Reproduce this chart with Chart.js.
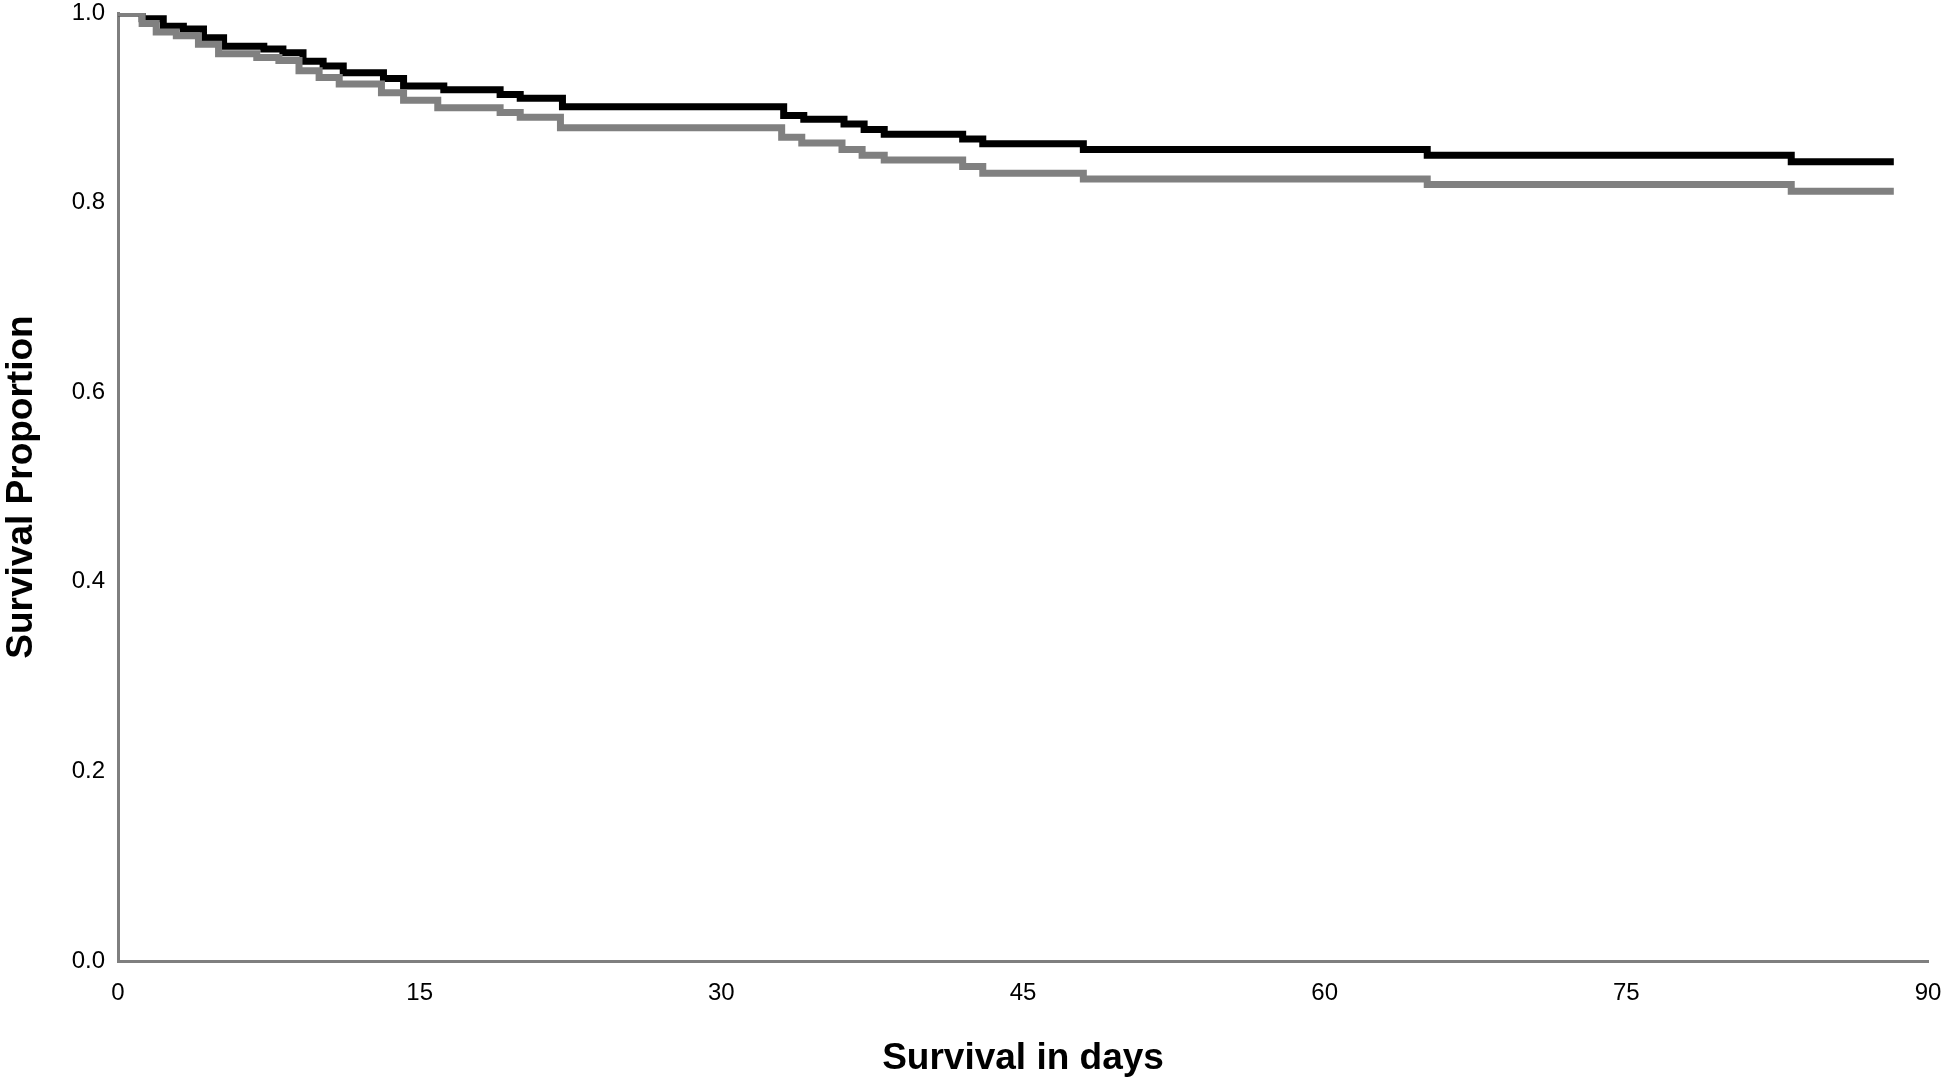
<!DOCTYPE html>
<html>
<head>
<meta charset="utf-8">
<title>Survival Proportion</title>
<script src="https://cdn.jsdelivr.net/npm/chart.js@4.4.1/dist/chart.umd.min.js"></script>
<style>
  html, body { margin: 0; padding: 0; background: #ffffff; }
  #wrap { width: 1950px; height: 1083px; }
</style>
</head>
<body>
<div id="wrap"><canvas id="survivalChart" width="1950" height="1083"></canvas></div>
<script>
// tick labels
const xTicks = [0, 15, 30, 45, 60, 75, 90];
const yTicks = [0, 0.2, 0.4, 0.6, 0.8, 1.0];

// black curve (step drops)
const blackDays = [0, 1.2, 2.25, 3.25, 4.25, 5.25, 7.25, 8.2, 9.2, 10.2, 11.2, 13.2, 14.2, 16.2, 19, 20, 22.1, 33.1, 34.1, 36.1, 37.1, 38.1, 42, 43, 48, 65.1, 83.2, 88.3];
const blackSurvival = [1.0, 0.994, 0.986, 0.983, 0.974, 0.965, 0.962, 0.958, 0.949, 0.944, 0.937, 0.931, 0.923, 0.919, 0.914, 0.910, 0.901, 0.892, 0.888, 0.883, 0.877, 0.872, 0.867, 0.862, 0.856, 0.850, 0.843, 0.843];

// gray curve
const grayDays = [0, 1.2, 1.9, 2.9, 4, 5, 6.9, 8, 9, 10, 11, 13.1, 14.2, 15.9, 19, 20, 22, 33, 34, 36, 37, 38.1, 42, 43, 48, 65.1, 83.2, 88.3];
const graySurvival = [1.0, 0.989, 0.980, 0.976, 0.967, 0.957, 0.953, 0.950, 0.939, 0.932, 0.925, 0.916, 0.908, 0.900, 0.895, 0.890, 0.879, 0.869, 0.863, 0.856, 0.850, 0.845, 0.838, 0.831, 0.825, 0.819, 0.812, 0.812];

document.addEventListener("DOMContentLoaded", () => {
  renderChart();
});

function toPoints(days, values) {
  return days.map((day, i) => ({ x: day, y: values[i] }));
}

function renderChart() {
  const ctx = document.getElementById("survivalChart").getContext("2d");

  new Chart(ctx, {
    type: "line",
    data: {
      datasets: [
        {
          label: "Gray",
          data: toPoints(grayDays, graySurvival),
          borderColor: "#808080",
          borderWidth: 7,
          stepped: "before",
          pointRadius: 0,
          fill: false
        },
        {
          label: "Black",
          data: toPoints(blackDays, blackSurvival),
          borderColor: "#000000",
          borderWidth: 7,
          stepped: "before",
          pointRadius: 0,
          fill: false
        }
      ]
    },
    options: {
      responsive: false,
      devicePixelRatio: 1,
      animation: false,
      layout: {
        padding: { left: 0, right: 22, top: 13, bottom: 0 }
      },
      plugins: {
        legend: { display: false },
        tooltip: { enabled: false }
      },
      scales: {
        x: {
          type: "linear",
          min: 0,
          max: 90,
          afterBuildTicks: scale => {
            scale.ticks = xTicks.map(v => ({ value: v }));
          },
          afterFit: scale => {
            // fixed band under the plot, no extra room for edge labels
            scale.height = 122;
            scale.paddingLeft = 0;
            scale.paddingRight = 0;
          },
          grid: { display: false, drawTicks: false },
          border: { display: true, color: "#7f7f7f", width: 3 },
          ticks: {
            padding: 18,
            color: "#000000",
            font: { family: "Liberation Sans, Arial, sans-serif", size: 24 },
            maxRotation: 0
          },
          title: {
            display: true,
            text: "Survival in days",
            color: "#000000",
            font: { family: "Liberation Sans, Arial, sans-serif", size: 37, weight: "bold", lineHeight: 1.2 },
            padding: { top: 0, bottom: 2 }
          }
        },
        y: {
          type: "linear",
          min: 0,
          max: 1,
          afterBuildTicks: scale => {
            scale.ticks = yTicks.map(v => ({ value: v }));
          },
          afterFit: scale => {
            scale.width = 118;
            scale.paddingTop = 0;
            scale.paddingBottom = 0;
          },
          grid: { display: false, drawTicks: false },
          border: { display: true, color: "#7f7f7f", width: 3 },
          ticks: {
            padding: 13,
            color: "#000000",
            font: { family: "Liberation Sans, Arial, sans-serif", size: 24 },
            callback: value => Number(value).toFixed(1)
          },
          title: {
            display: true,
            text: "Survival Proportion",
            color: "#000000",
            font: { family: "Liberation Sans, Arial, sans-serif", size: 37, weight: "bold", lineHeight: 1.2 },
            padding: { top: 0, bottom: 0 }
          }
        }
      }
    }
  });
}
</script>
</body>
</html>
